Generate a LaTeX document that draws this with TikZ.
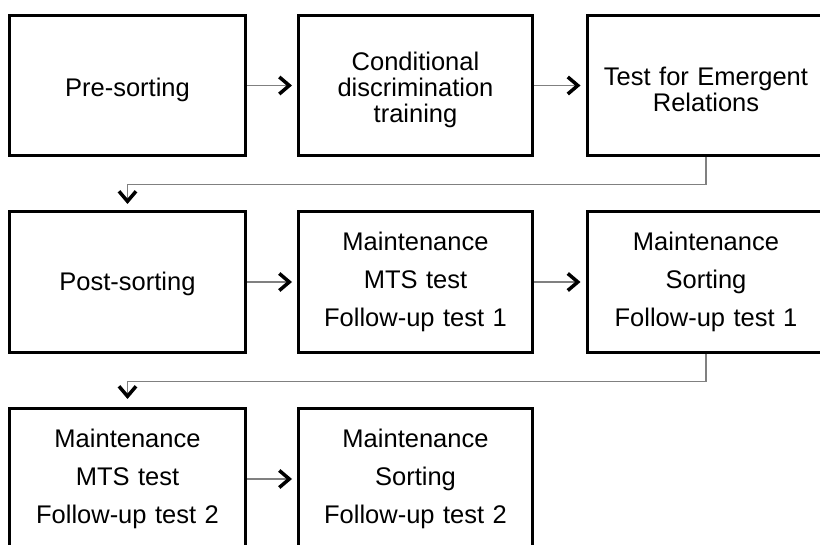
\documentclass[tikz,border=0pt]{standalone}
\usepackage{fontspec}
\setmainfont{Liberation Sans}
\usetikzlibrary{arrows.meta,calc}
\newcommand{\lift}[1]{\rule{0pt}{#1}}
\tikzset{
  box/.style={draw=black, line width=3pt, fill=white, align=center,
    inner sep=0pt, text width=226pt},
  tight/.style={font=\fontsize{25.5}{26}\selectfont},
  loose/.style={font=\fontsize{25.5}{38}\selectfont},
  conn/.style={draw=black!50, line width=1.5pt,
    -{Straight Barb[color=black, line width=3.5pt, length=10pt, width=17pt]}},
}
\begin{document}
\begin{tikzpicture}[x=1pt, y=-1pt]
\useasboundingbox (0,0) rectangle (820,545);
\clip (0,0) rectangle (820,545);
% row 1
\node[box, tight, minimum width=236pt, minimum height=140pt] (a1) at (127.5,85.5) {\lift{27pt}Pre-sorting};
\node[box, tight, minimum width=234pt, minimum height=140pt] (a2) at (415.5,85.5) {\lift{27pt}Conditional\\discrimination\\training};
\node[box, tight, minimum width=238pt, minimum height=140pt] (a3) at (706,85.5) {\lift{27pt}Test for Emergent\\Relations};
% row 2
\node[box, tight, minimum width=236pt, minimum height=141pt] (b1) at (127.5,282) {\lift{23pt}Post-sorting};
\node[box, loose, minimum width=234pt, minimum height=141pt] (b2) at (415.5,282) {Maintenance\\MTS test\\Follow-up test 1};
\node[box, loose, minimum width=238pt, minimum height=141pt] (b3) at (706,282) {Maintenance\\Sorting\\Follow-up test 1};
% row 3
\node[box, loose, minimum width=236pt, minimum height=141pt] (c1) at (127.5,479) {Maintenance\\MTS test\\Follow-up test 2};
\node[box, loose, minimum width=234pt, minimum height=141pt] (c2) at (415.5,479) {Maintenance\\Sorting\\Follow-up test 2};
% connectors
\draw[conn, shorten >=5pt] (a1.east) -- (a2.west);
\draw[conn, shorten >=5pt] (a2.east) -- (a3.west);
\draw[conn, shorten >=6pt] (a3.south) -- ($(a3.south)+(0,27.5)$) -| (b1.north);
\draw[conn, shorten >=5pt] (b1.east) -- (b2.west);
\draw[conn, shorten >=5pt] (b2.east) -- (b3.west);
\draw[conn, shorten >=8pt] (b3.south) -- ($(b3.south)+(0,27.5)$) -| (c1.north);
\draw[conn, shorten >=5pt] (c1.east) -- (c2.west);
\end{tikzpicture}
\end{document}
